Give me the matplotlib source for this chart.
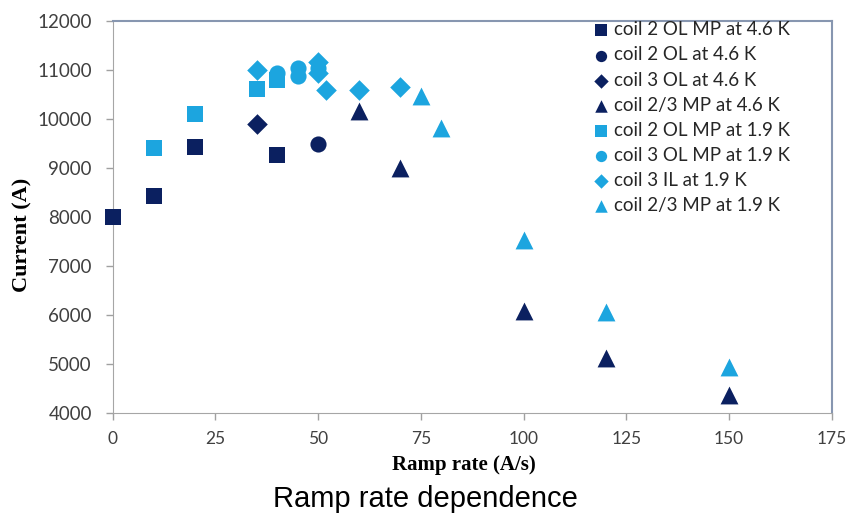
import numpy as np
import matplotlib
matplotlib.use('Agg')
import matplotlib.pyplot as plt

# ── Données ────────────────────────────────────────────────────────────
x_c2_ol_mp_46 = [0, 10, 20, 40]
y_c2_ol_mp_46 = [8000, 8430, 9415, 9265]

x_c2_ol_46 = [50]
y_c2_ol_46 = [9480]

x_c3_ol_46 = [35]
y_c3_ol_46 = [9900]

x_c23_mp_46 = [60, 70, 100, 120, 150]
y_c23_mp_46 = [10150, 8995, 6090, 5115, 4370]

x_c2_ol_mp_19 = [10, 20, 35, 40]
y_c2_ol_mp_19 = [9400, 10095, 10610, 10790]

x_c3_ol_mp_19 = [40, 45, 45, 50]
y_c3_ol_mp_19 = [10935, 11035, 10865, 11040]

x_c3_il_19 = [35, 50, 50, 52, 60, 70]
y_c3_il_19 = [10985, 11150, 10930, 10595, 10595, 10645]

x_c23_mp_19 = [75, 80, 100, 120, 150]
y_c23_mp_19 = [10455, 9810, 7530, 6055, 4945]

xticks = [0, 25, 50, 75, 100, 125, 150, 175]
yticks = [4000, 5000, 6000, 7000, 8000, 9000, 10000, 11000, 12000]

navy = '#0b2060'
cyan = '#1ca5df'

series = [
    (x_c2_ol_mp_46, y_c2_ol_mp_46, 's', navy, 'coil 2 OL MP at 4.6 K', 135),
    (x_c2_ol_46,    y_c2_ol_46,    'o', navy, 'coil 2 OL at 4.6 K', 135),
    (x_c3_ol_46,    y_c3_ol_46,    'D', navy, 'coil 3 OL at 4.6 K', 110),
    (x_c23_mp_46,   y_c23_mp_46,   '^', navy, 'coil 2/3 MP at 4.6 K', 165),
    (x_c2_ol_mp_19, y_c2_ol_mp_19, 's', cyan, 'coil 2 OL MP at 1.9 K', 135),
    (x_c3_ol_mp_19, y_c3_ol_mp_19, 'o', cyan, 'coil 3 OL MP at 1.9 K', 135),
    (x_c3_il_19,    y_c3_il_19,    'D', cyan, 'coil 3 IL at 1.9 K', 110),
    (x_c23_mp_19,   y_c23_mp_19,   '^', cyan, 'coil 2/3 MP at 1.9 K', 165),
]

fig = plt.figure(figsize=(8.46, 5.15), dpi=100)
ax = fig.add_axes([0.1333, 0.198, 0.8497, 0.762])

handles = []
for xs, ys, m, c, lab, s in series:
    h = ax.scatter(xs, ys, marker=m, s=s, color=c, linewidths=0, label=lab,
                   zorder=3, clip_on=False)
    handles.append(h)

ax.set_xlim(0, 175)
ax.set_ylim(4000, 12000)
ax.set_xticks(xticks)
ax.set_yticks(yticks)

sans = 'Lato'
serif = 'Liberation Serif'
ax.set_xticklabels([str(t) for t in xticks], fontfamily=sans, fontsize=12.5, color='#404040')
ax.set_yticklabels([str(t) for t in yticks], fontfamily=sans, fontsize=13.5, color='#404040')
ax.tick_params(direction='out', length=5, color='#a0a0a0', width=1)
ax.tick_params(axis='y', pad=10)
ax.tick_params(axis='x', pad=8)

for side in ['left', 'bottom']:
    ax.spines[side].set_color('#a6a6a6')
for side in ['top', 'right']:
    ax.spines[side].set_color('#8796b0')
    ax.spines[side].set_linewidth(1.5)

ax.set_xlabel('Ramp rate (A/s)', fontfamily=serif, fontweight='bold', fontsize=15)
ax.set_ylabel('Current (A)', fontfamily=serif, fontweight='bold', fontsize=16)
ax.xaxis.set_label_coords(464 / 846, 1 - 465 / 515, transform=fig.transFigure)
ax.yaxis.set_label_coords(22 / 846, 1 - 235 / 515, transform=fig.transFigure)
ax.xaxis.label.set_va('center')
ax.yaxis.label.set_va('center')

leg = ax.legend(handles=handles, loc='upper left', bbox_to_anchor=(584 / 846, 1 - 12 / 515),
                bbox_transform=fig.transFigure, frameon=False, prop={'family': sans, 'size': 13.5},
                markerscale=0.7, handlelength=0.8, handletextpad=0.3, labelspacing=0.43,
                borderpad=0, scatterpoints=1)
for t in leg.get_texts():
    t.set_color('#262626')

fig.text(425 / 846, 1 - 507 / 515, 'Ramp rate dependence', ha='center', va='baseline',
         fontfamily='Liberation Sans', fontsize=21)

fig.savefig('out.png', dpi=100)
